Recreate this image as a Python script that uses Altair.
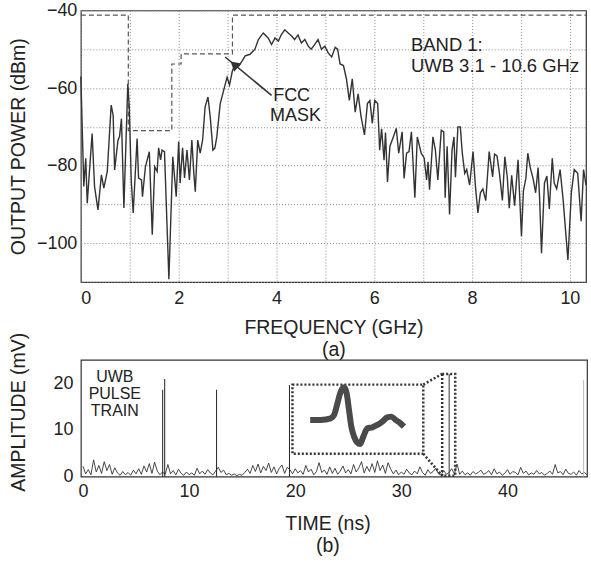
import altair as alt
import pandas as pd

FONT = "Liberation Sans"

# ---------------- top panel: spectrum ----------------
freq_ghz = [0.00, 0.06, 0.10, 0.13, 0.23, 0.28, 0.35, 0.42, 0.47, 0.54, 0.62, 0.66, 0.69, 0.76, 0.79,
            0.83, 0.88, 0.96, 0.99, 1.03, 1.07, 1.15, 1.18, 1.24, 1.26, 1.32, 1.40, 1.46, 1.51, 1.56,
            1.59, 1.63, 1.66, 1.71, 1.80, 1.88, 1.95, 2.00, 2.03, 2.08, 2.12, 2.17, 2.22, 2.27, 2.31,
            2.34, 2.39, 2.44, 2.49, 2.54, 2.60, 2.65, 2.70, 2.74, 2.78, 2.85, 2.92, 2.99, 3.04, 3.10,
            3.16, 3.23, 3.30, 3.36, 3.46, 3.56, 3.63, 3.73, 3.83, 3.90, 3.97, 4.04, 4.10, 4.17, 4.24,
            4.31, 4.37, 4.44, 4.51, 4.58, 4.65, 4.71, 4.78, 4.85, 4.92, 4.99, 5.06, 5.13, 5.20, 5.25,
            5.30, 5.37, 5.43, 5.49, 5.55, 5.61, 5.67, 5.73, 5.80, 5.86, 5.91, 5.96, 6.01, 6.07, 6.11,
            6.15, 6.20, 6.23, 6.27, 6.32, 6.39, 6.45, 6.50, 6.57, 6.61, 6.66, 6.71, 6.76, 6.83, 6.88,
            6.96, 7.02, 7.07, 7.10, 7.13, 7.20, 7.25, 7.30, 7.37, 7.42, 7.45, 7.49, 7.54, 7.59, 7.63,
            7.66, 7.71, 7.76, 7.80, 7.85, 7.89, 7.95, 8.02, 8.07, 8.12, 8.17, 8.22, 8.28, 8.35, 8.42,
            8.46, 8.51, 8.56, 8.62, 8.67, 8.72, 8.76, 8.81, 8.87, 8.94, 9.01, 9.05, 9.10, 9.14, 9.19,
            9.25, 9.30, 9.35, 9.38, 9.42, 9.48, 9.53, 9.58, 9.64, 9.68, 9.73, 9.80, 9.86, 9.96, 10.03,
            10.09, 10.16, 10.23, 10.28, 10.33]
power_dbm = [-57.0, -85.4, -78.1, -89.7, -71.7, -85.4, -91.4, -82.4, -85.8, -81.5, -64.4, -67.0, -81.1, -73.4, -72.6,
             -67.9, -90.9, -58.9, -64.9, -83.7, -92.2, -73.0, -83.2, -83.7, -88.0, -80.3, -76.4, -97.8, -80.3, -81.5,
             -75.4, -78.5, -76.0, -76.4, -109.3, -77.7, -88.0, -73.8, -84.5, -75.4, -83.2, -76.0, -83.7, -73.4, -82.0,
             -86.7, -73.4, -76.8, -73.4, -64.9, -62.3, -68.0, -76.0, -75.5, -72.6, -64.0, -60.6, -57.2, -59.2, -55.5,
             -53.9, -54.3, -53.0, -51.7, -51.3, -50.0, -47.5, -45.8, -47.1, -48.8, -47.1, -47.9, -46.2, -45.0, -45.8,
             -46.6, -47.5, -46.3, -48.4, -47.5, -49.2, -50.0, -48.8, -47.5, -50.0, -49.2, -51.0, -52.0, -49.5, -50.0,
             -53.8, -54.2, -57.6, -63.2, -57.6, -66.2, -61.5, -67.4, -72.1, -64.0, -63.2, -69.1, -63.2, -64.0, -76.0,
             -70.5, -78.6, -71.5, -84.2, -75.0, -72.6, -70.4, -76.8, -71.3, -83.3, -76.8, -76.4, -71.3, -88.3, -72.6,
             -76.8, -78.0, -83.7, -79.0, -86.2, -72.6, -76.0, -83.7, -70.9, -71.3, -88.3, -75.0, -92.6, -76.0, -72.6,
             -83.0, -70.0, -70.0, -76.8, -82.0, -81.0, -85.0, -76.4, -85.5, -92.2, -87.0, -86.0, -89.0, -76.4, -82.9,
             -77.0, -77.5, -82.0, -89.0, -77.7, -83.0, -91.0, -82.5, -90.3, -78.5, -98.2, -86.5, -83.3, -76.8, -80.5,
             -83.5, -87.0, -80.5, -88.0, -102.6, -84.5, -82.7, -91.2, -78.1, -84.5, -86.0, -81.0, -88.5, -104.3, -87.0,
             -81.0, -82.0, -94.3, -81.0, -85.0]

mask_freq = [0.0, 0.97, 0.97, 1.86, 1.86, 2.05, 2.05, 3.10, 3.10, 10.33]
mask_dbm = [-41.2, -41.2, -71.0, -71.0, -53.8, -53.8, -51.2, -51.2, -41.2, -41.2]

arrow_freq = [3.90, 2.95]
arrow_dbm = [-61.9, -52.0]
arrowhead_freq = [3.16]
arrowhead_dbm = [-54.2]

top_labels = ["FCC", "MASK", "BAND 1:", "UWB 3.1 - 10.6 GHz"]
top_label_freq = [4.31, 4.39, 6.75, 6.75]
top_label_dbm = [-62.1, -67.3, -48.8, -54.2]
top_label_align = ["center", "center", "left", "left"]

# ---------------- bottom panel: pulse train ----------------
noise_step_ns = 0.25
noise_mv = [2.2, 0.6, 1.5, 0.4, 3.6, 1.0, 2.4, 0.7, 3.2, 1.3,
            2.6, 0.5, 1.9, 0.8, 0.3, 1.1, 0.4, 0.9, 0.3, 1.4,
            0.6, 1.7, 0.5, 2.3, 1.0, 2.8, 0.7, 3.1, 1.2, 0.4,
            1.0, 0.5, 2.6, 0.6, 1.3, 0.4, 1.6, 0.7, 0.3, 1.0,
            0.4, 0.8, 0.3, 1.8, 0.6, 1.2, 0.5, 1.5, 0.8, 0.4,
            1.2, 2.0, 0.9, 1.4, 0.4, 0.7, 0.3, 0.6, 0.2, 0.5,
            0.3, 0.9, 1.6, 0.7, 2.4, 1.1, 2.7, 0.8, 2.2, 1.3,
            2.9, 0.9, 2.1, 0.6, 1.8, 2.5, 0.7, 2.0, 1.5, 0.6,
            1.7, 0.8, 1.3, 0.5, 2.4, 1.0, 1.6, 0.4, 1.1, 3.0,
            0.9, 1.4, 0.5, 2.1, 0.7, 1.8, 0.5, 1.2, 2.3, 0.8,
            1.5, 0.6, 2.6, 1.0, 1.9, 3.2, 0.8, 2.2, 1.1, 2.8,
            0.9, 3.4, 1.3, 2.5, 0.7, 3.0, 1.6, 0.6, 1.4, 0.4,
            1.0, 0.5, 1.6, 0.8, 0.4, 1.2, 0.6, 2.1, 0.9, 0.3,
            1.5, 0.7, 1.1, 1.8, 0.6, 0.4, 1.3, 0.5, 0.9, 1.7,
            0.6, 2.7, 0.5, 1.2, 0.4, 0.8, 0.3, 1.1, 0.6, 0.9,
            1.4, 0.5, 0.8, 1.3, 0.4, 1.7, 0.6, 1.0, 0.3, 0.7,
            1.5, 0.5, 1.1, 0.9, 0.4, 2.0, 0.7, 1.2, 0.4, 0.8,
            0.5, 1.3, 0.6, 0.9, 0.3, 0.7, 1.2, 0.5, 2.6, 0.8,
            1.1, 0.4, 1.6, 0.7, 0.5, 1.0, 0.3, 1.3, 0.6, 0.9, 0.4]
noise_ns = [i * noise_step_ns for i in range(len(noise_mv))]

pulse_ns = [7.51, 7.70, 12.59, 19.46, 34.51, 47.18]
pulse_mv = [18.6, 20.9, 18.6, 19.6, 22.0, 20.7]
pulse_color = ["#222222", "#222222", "#222222", "#222222", "#333333", "#bbbbbb"]

inset_box_ns = [19.74, 32.07]
inset_box_mv = [4.9, 19.7]
zoom_box_ns = [33.85, 35.08]
zoom_box_mv = [0.2, 22.0]

inset_ns = [21.41, 22.41, 23.35, 23.67, 23.98, 24.29, 24.61, 24.85, 25.07, 25.29, 25.55, 25.86,
            26.11, 26.42, 26.80, 27.27, 27.74, 28.21, 28.68, 29.06, 29.46, 29.93, 30.25]
inset_mv = [12.14, 12.14, 12.48, 13.21, 15.70, 18.20, 19.12, 17.84, 14.28, 10.71, 8.57, 7.28,
            7.00, 8.57, 10.34, 10.56, 11.07, 11.78, 12.70, 12.85, 12.14, 11.41, 10.71]

bottom_labels = ["UWB", "PULSE", "TRAIN"]
bottom_label_ns = [3.0, 3.0, 3.0]
bottom_label_mv = [21.3, 17.7, 14.1]

# ---------------- build ----------------
fx_scale = alt.Scale(domain=[0, 10.33], nice=False, zero=False)
fy_scale = alt.Scale(domain=[-110, -40], nice=False, zero=False)
fx_axis = alt.Axis(values=list(range(0, 11)),
                   labelExpr="datum.value % 2 == 0 ? datum.label : ''",
                   title=["FREQUENCY (GHz)", "(a)"], grid=True, ticks=False, domain=False,
                   labelPadding=8, titlePadding=11, titleLineHeight=22)
fy_axis = alt.Axis(values=list(range(-110, -39, 10)),
                   labelExpr="datum.value % 20 == 0 ? datum.label : ''",
                   title="OUTPUT POWER (dBm)", grid=True, ticks=False, domain=False,
                   labelPadding=4, titleX=-52)


def FX(field):
    return alt.X(field, type="quantitative", scale=fx_scale, axis=fx_axis)


def FY(field):
    return alt.Y(field, type="quantitative", scale=fy_scale, axis=fy_axis)


spec_df = pd.DataFrame({"f": freq_ghz, "p": power_dbm})
mask_df = pd.DataFrame({"f": mask_freq, "p": mask_dbm, "i": list(range(len(mask_freq)))})
arrow_df = pd.DataFrame({"f": [arrow_freq[0]], "p": [arrow_dbm[0]], "f2": [arrow_freq[1]], "p2": [arrow_dbm[1]]})
head_df = pd.DataFrame({"f": arrowhead_freq, "p": arrowhead_dbm})
tl_df = pd.DataFrame({"f": top_label_freq, "p": top_label_dbm, "t": top_labels, "a": top_label_align})

mask = alt.Chart(mask_df).mark_line(color="#555555", strokeWidth=1.2, strokeDash=[5, 3]).encode(
    x=FX("f"), y=FY("p"), order="i:Q")
spec = alt.Chart(spec_df).mark_line(color="#333333", strokeWidth=1.4).encode(x=FX("f"), y=FY("p"))
arrow = alt.Chart(arrow_df).mark_rule(color="#333333", strokeWidth=1.6).encode(
    x=FX("f"), y=FY("p"), x2="f2", y2="p2")
head = alt.Chart(head_df).mark_point(shape="triangle", angle=311, size=120, filled=True,
                                     color="#333333", opacity=1).encode(x=FX("f"), y=FY("p"))
tl_c = alt.Chart(tl_df[tl_df.a == "center"]).mark_text(font=FONT, fontSize=18, color="#222222",
                                                       align="center", baseline="middle").encode(
    x=FX("f"), y=FY("p"), text="t")
tl_l = alt.Chart(tl_df[tl_df.a == "left"]).mark_text(font=FONT, fontSize=18.5, color="#222222",
                                                     align="left", baseline="middle").encode(
    x=FX("f"), y=FY("p"), text="t")

top = alt.layer(mask, spec, arrow, head, tl_c, tl_l).properties(width=506, height=272)

tx_scale = alt.Scale(domain=[-0.2, 47.5], nice=False, zero=False)
ty_scale = alt.Scale(domain=[0, 25], nice=False, zero=False)
tx_axis = alt.Axis(values=[0, 10, 20, 30, 40], title=["TIME (ns)", "(b)"], grid=False, ticks=False,
                   domain=False, labelPadding=6, titlePadding=14, titleLineHeight=22, titleX=247)
ty_axis = alt.Axis(values=[0, 10, 20], title="AMPLITUDE (mV)", grid=False, ticks=False, domain=False,
                   labelPadding=8, titleX=-52, titleY=52)


def TX(field):
    return alt.X(field, type="quantitative", scale=tx_scale, axis=tx_axis)


def TY(field):
    return alt.Y(field, type="quantitative", scale=ty_scale, axis=ty_axis)


noise_df = pd.DataFrame({"t": noise_ns, "v": noise_mv})
pulse_df = pd.DataFrame({"t": pulse_ns, "v": pulse_mv, "c": pulse_color, "z": [0.0] * len(pulse_ns)})
ibox_df = pd.DataFrame({"t": [inset_box_ns[0]], "t2": [inset_box_ns[1]], "v": [inset_box_mv[0]], "v2": [inset_box_mv[1]]})
zbox_df = pd.DataFrame({"t": [zoom_box_ns[0]], "t2": [zoom_box_ns[1]], "v": [zoom_box_mv[0]], "v2": [zoom_box_mv[1]]})
conn_df = pd.DataFrame({"t": [inset_box_ns[1], inset_box_ns[1]], "v": [inset_box_mv[1], inset_box_mv[0]],
                        "t2": [zoom_box_ns[0], zoom_box_ns[0]], "v2": [zoom_box_mv[1], zoom_box_mv[0]]})
wave_df = pd.DataFrame({"t": inset_ns, "v": inset_mv})
bl_df = pd.DataFrame({"t": bottom_label_ns, "v": bottom_label_mv, "s": bottom_labels})

noise = alt.Chart(noise_df).mark_line(color="#333333", strokeWidth=0.9).encode(x=TX("t"), y=TY("v"))
pulses = alt.Chart(pulse_df).mark_rule(strokeWidth=1).encode(
    x=TX("t"), y=TY("z"), y2="v", color=alt.Color("c:N", scale=None))
ibox = alt.Chart(ibox_df).mark_rect(fill="white", fillOpacity=0, stroke="#333333", strokeWidth=2.5,
                                    strokeDash=[2, 2]).encode(x=TX("t"), x2="t2", y=TY("v"), y2="v2")
zbox = alt.Chart(zbox_df).mark_rect(fill="white", fillOpacity=0, stroke="#333333", strokeWidth=2.5,
                                    strokeDash=[2, 2]).encode(x=TX("t"), x2="t2", y=TY("v"), y2="v2")
conn = alt.Chart(conn_df).mark_rule(color="#333333", strokeWidth=2.5, strokeDash=[2, 2]).encode(
    x=TX("t"), y=TY("v"), x2="t2", y2="v2")
wave = alt.Chart(wave_df).mark_line(color="#4a4a4a", strokeWidth=6, interpolate="monotone").encode(
    x=TX("t"), y=TY("v"))
bl = alt.Chart(bl_df).mark_text(font=FONT, fontSize=16, color="#222222", align="center",
                                baseline="middle").encode(x=TX("t"), y=TY("v"), text="s")

bottom = alt.layer(noise, pulses, ibox, zbox, conn, wave, bl).properties(width=507, height=117)

chart = alt.vconcat(top, bottom, spacing=78, bounds="flush").resolve_scale(
    x="independent", y="independent").properties(
    padding={"left": 8, "top": 0, "right": 1, "bottom": 2}, background="white"
).configure_view(stroke="#333333", strokeWidth=1.2).configure_axis(
    labelFont=FONT, labelFontSize=18, labelColor="#222222",
    titleFont=FONT, titleFontSize=19.5, titleFontWeight="normal", titleColor="#222222",
    gridColor="#888888", gridDash=[1, 2], gridWidth=1, gridOpacity=1
)

chart.save("out.html", embed_options={"renderer": "svg", "actions": False})
